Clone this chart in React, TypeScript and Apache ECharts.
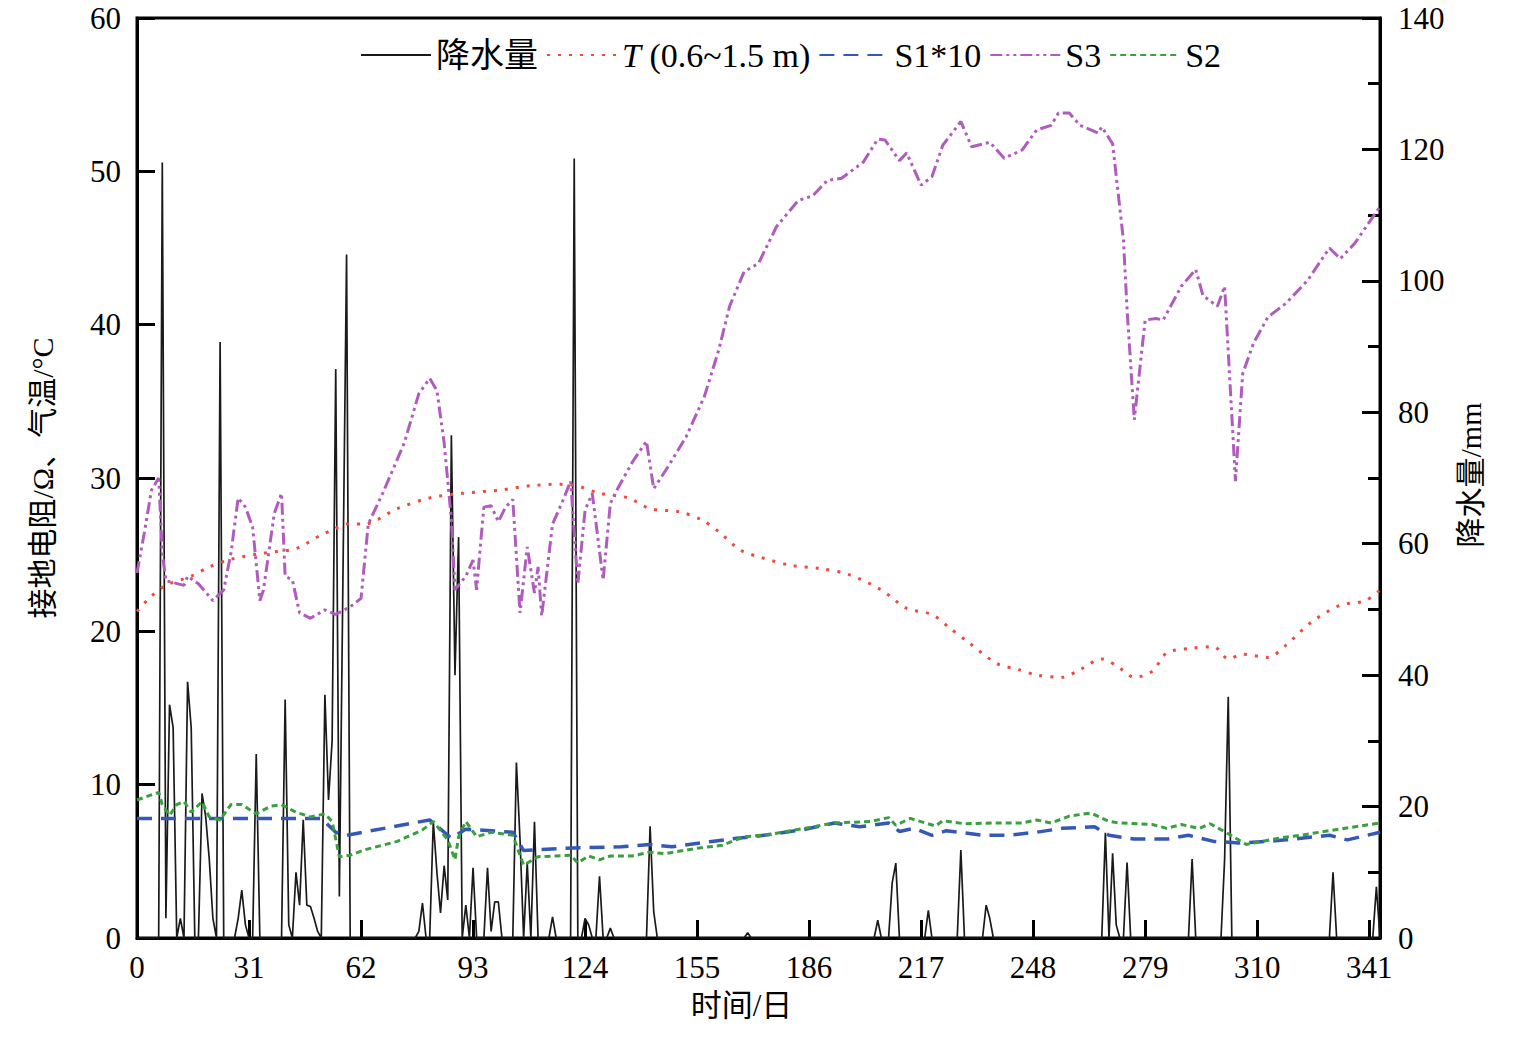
import React, { useEffect, useRef } from 'react';
import * as echarts from 'echarts';

// ---------- data ----------
const xMax = 344;
const xTickStep = 31;

// precipitation (mm), daily; days not listed are 0
const rainDays = [7, 8, 9, 10, 12, 14, 15, 18, 19, 20, 21, 23, 28, 29, 30, 33, 41, 42, 44, 45, 46, 47, 48, 49, 50, 52, 53, 54, 55, 56, 57, 58,
  78, 79, 82, 83, 84, 85, 86, 87, 88, 89, 91, 93, 97, 98, 99, 100, 105, 106, 108, 110, 115, 121, 124, 125, 128, 131, 142, 143, 169,
  205, 209, 210, 219, 228, 235, 236, 268, 270, 271, 274, 292, 301, 302, 331, 343];
const rainMm = [118, 3, 35.5, 32, 3, 39, 32, 22, 18.5, 12, 3, 90.7, 3, 7.3, 2, 28, 36.3, 2, 10, 5, 18, 5, 4.8, 3, 1, 37, 21, 30, 86.6, 6.3, 55, 104,
  1, 5.3, 17.7, 10, 3.8, 11, 5.8, 76.5, 40, 61, 5, 10.7, 10.7, 1, 5.5, 5.5, 26.7, 15, 11.4, 17.7, 3.2, 118.6, 3, 2, 9.4, 1.5, 17, 4, 0.8,
  2.7, 8.4, 11.4, 4.2, 13.4, 5, 3, 16, 12.9, 2, 11.5, 12, 12, 36.7, 10, 7.8];

// T (0.6~1.5 m), °C
const tDays = [0, 4, 8, 15, 20, 26, 35, 44, 51, 54, 58, 63, 72, 81, 90, 100, 109, 118, 123, 128, 136, 142, 150, 156, 161, 167, 173, 181, 189, 197,
  206, 213, 220, 225, 230, 238, 244, 249, 256, 261, 267, 272, 276, 281, 285, 292, 298, 302, 306, 313, 318, 325, 333, 340, 344];
const tVals = [21.3, 22.3, 23.0, 23.6, 24.2, 24.7, 25.1, 25.4, 26.3, 26.6, 27.0, 27.0, 28.0, 28.7, 29.0, 29.2, 29.5, 29.6, 29.4, 29.0, 28.7, 28.0, 27.8, 27.3, 26.5, 25.3, 24.8, 24.3, 24.1, 23.7,
  22.7, 21.5, 21.1, 20.2, 19.3, 17.9, 17.5, 17.15, 17.0, 17.5, 18.2, 17.6, 17.0, 17.4, 18.6, 18.9, 19.0, 18.2, 18.5, 18.3, 19.1, 20.6, 21.7, 22.0, 22.7];

// S1*10, Ω
const s1Days = [0, 20, 35, 51, 55, 58, 81, 87, 91, 104, 107, 118, 134, 142, 148, 159, 166, 172, 184, 193, 200, 208, 211, 215, 220, 224, 234, 241,
  249, 256, 265, 269, 276, 285, 291, 298, 305, 313, 318, 330, 335, 344];
const s1Vals = [7.8, 7.8, 7.8, 7.8, 6.9, 6.7, 7.7, 6.5, 7.1, 6.9, 5.7, 5.85, 5.95, 6.1, 5.95, 6.3, 6.5, 6.65, 7.05, 7.5, 7.25, 7.5, 6.95, 7.15, 6.7, 7.0, 6.7, 6.7,
  6.9, 7.15, 7.25, 6.7, 6.45, 6.45, 6.7, 6.3, 6.2, 6.3, 6.4, 6.7, 6.4, 6.9];

// S3, Ω
const s3Days = [0, 2, 4, 6, 7, 8, 13, 14, 17, 21, 24, 26, 28, 30, 32, 34, 35, 38, 40, 41, 43, 45, 48, 52, 55, 59, 62, 64, 68, 74, 78, 81, 83, 85, 87, 88,
  91, 93, 94, 95, 96, 98, 100, 102, 104, 106, 108, 110, 111, 112, 115, 118, 120, 122, 124, 126, 129, 131, 133, 137, 141, 143, 147, 152, 157, 161, 164,
  168, 172, 177, 183, 187, 191, 195, 201, 205, 207, 211, 213, 217, 220, 223, 228, 231, 236, 240, 245, 249, 253, 255, 258, 261, 266, 267, 270, 273, 274,
  276, 279, 282, 284, 289, 293, 295, 299, 301, 304, 306, 309, 313, 318, 324, 330, 333, 337, 344];
const s3Vals = [23.8, 26.4, 29.2, 30.0, 25.1, 23.3, 23.0, 23.6, 23.1, 22.0, 22.7, 25.1, 28.7, 28.1, 26.8, 22.0, 22.7, 27.7, 29.0, 23.6, 23.35, 21.2, 20.85, 21.4, 21.1, 21.6, 22.15, 27.0, 29.0, 32.3, 35.5, 36.5, 35.7, 32.3, 27.3, 22.7,
  23.6, 24.65, 22.7, 25.5, 28.1, 28.2, 27.15, 28.1, 28.6, 21.2, 25.5, 22.5, 24.2, 21.0, 27.0, 28.6, 29.8, 23.1, 27.9, 29.0, 23.35, 28.35, 29.3, 31.0, 32.4, 29.3, 30.75, 32.7, 35.3, 38.35, 41.2,
  43.45, 44.0, 46.4, 48.1, 48.4, 49.4, 49.55, 50.6, 52.1, 52.05, 50.7, 51.2, 49.1, 49.65, 51.7, 53.25, 51.6, 51.9, 50.85, 51.4, 52.7, 53.0, 53.8, 53.8, 53.0, 52.5, 52.9, 51.8, 45.5, 41.0,
  33.8, 40.3, 40.4, 40.3, 42.5, 43.6, 41.9, 41.2, 42.5, 29.8, 36.8, 38.8, 40.5, 41.4, 42.9, 45.0, 44.3, 45.3, 47.7];

// S2, Ω
const s2Days = [0, 6, 7, 9, 11, 13, 15, 18, 20, 23, 26, 29, 33, 37, 40, 44, 48, 52, 54, 56, 59, 63, 72, 79, 82, 86, 88, 89, 91, 94, 98, 104, 107, 111,
  120, 122, 125, 128, 131, 137, 142, 146, 155, 162, 168, 175, 186, 193, 203, 208, 210, 214, 221, 223, 229, 237, 245, 249, 253, 258, 264, 269, 272,
  281, 285, 289, 294, 297, 302, 307, 317, 322, 330, 344];
const s2Vals = [9.0, 9.5, 8.7, 8.0, 8.7, 8.9, 8.2, 8.9, 7.9, 7.7, 8.7, 8.7, 8.1, 8.6, 8.7, 8.2, 7.9, 8.1, 7.6, 5.3, 5.4, 5.75, 6.3, 7.05, 7.6, 6.4, 5.1, 6.6, 7.6, 6.6, 6.9, 6.7, 4.75, 5.3,
  5.4, 4.9, 5.35, 5.1, 5.35, 5.35, 5.6, 5.5, 5.85, 6.05, 6.6, 6.75, 7.2, 7.5, 7.6, 7.85, 7.35, 7.8, 7.3, 7.65, 7.45, 7.5, 7.5, 7.7, 7.5, 7.95, 8.15, 7.6, 7.5,
  7.4, 7.15, 7.4, 7.15, 7.45, 6.8, 6.1, 6.55, 6.7, 7.0, 7.5];

const seriesNames = ['降水量', 'T (0.6~1.5 m)', 'S1*10', 'S3', 'S2'];
const leftAxisName = '接地电阻/Ω、气温/°C';
const rightAxisName = '降水量/mm';
const xAxisName = '时间/日';

const FONT = "'Liberation Serif', 'Noto Sans CJK SC', serif";

function pairs(days: number[], vals: number[]) {
  return days.map((d, i) => [d, vals[i]]);
}

function dailyRain() {
  const arr: number[][] = [];
  for (let d = 0; d <= xMax; d++) arr.push([d, 0]);
  rainDays.forEach((d, i) => { arr[d][1] = rainMm[i]; });
  return arr;
}

export default function App() {
  const ref = useRef<HTMLDivElement>(null);
  useEffect(() => {
    if (!ref.current) return;
    const chart = echarts.init(ref.current, null, { renderer: 'svg' });
    const axisLine = { show: true, lineStyle: { color: '#000', width: 3 } };
    const labelStyle = { color: '#000', fontSize: 31, fontFamily: FONT };
    chart.setOption({
      animation: false,
      backgroundColor: '#fff',
      grid: {
        left: 137, right: 140, top: 18, bottom: 124,
        containLabel: false,
        outerBoundsMode: 'none',
        show: true, borderColor: '#000', borderWidth: 3, backgroundColor: 'transparent',
      },
      legend: {
        left: 355, top: 33,
        itemWidth: 70, itemHeight: 14, itemGap: 8,
        data: seriesNames,
        itemStyle: { opacity: 0 },
        formatter: (name: string) => name.startsWith('T ') ? '{it|T} {n|(0.6~1.5 m)}' : name,
        textStyle: {
          color: '#000', fontSize: 34, fontFamily: FONT,
          rich: {
            it: { fontStyle: 'italic', fontSize: 34, fontFamily: FONT, color: '#000' },
            n: { fontSize: 34, fontFamily: FONT, color: '#000' },
          },
        },
      },
      xAxis: {
        type: 'value', min: 0, max: xMax, interval: xTickStep,
        name: xAxisName, nameLocation: 'middle', nameGap: 52,
        nameTextStyle: { color: '#000', fontSize: 31, fontFamily: FONT, padding: [0, 34, 0, 0] },
        axisLine,
        axisTick: { show: true, inside: true, length: 18, lineStyle: { color: '#000', width: 3 } },
        axisLabel: { ...labelStyle, margin: 14, formatter: (v: number) => (v % xTickStep === 0 ? String(v) : '') },
        splitLine: { show: false },
      },
      yAxis: [
        {
          type: 'value', min: 0, max: 60, interval: 10, position: 'left',
          name: leftAxisName, nameLocation: 'middle', nameGap: 80, nameRotate: 90,
          nameTextStyle: { color: '#000', fontSize: 30, fontFamily: FONT },
          axisLine,
          axisTick: { show: true, inside: true, length: 18, lineStyle: { color: '#000', width: 3 } },
          axisLabel: { ...labelStyle, margin: 16 },
          splitLine: { show: false },
        },
        {
          type: 'value', min: 0, max: 140, interval: 20, position: 'right',
          name: rightAxisName, nameLocation: 'middle', nameGap: 68, nameRotate: 90,
          nameTextStyle: { color: '#000', fontSize: 30, fontFamily: FONT, padding: [0, 0, 0, 6] },
          axisLine,
          axisTick: { show: true, inside: true, length: 18, lineStyle: { color: '#000', width: 3 } },
          minorTick: { show: true, splitNumber: 2, length: 12, lineStyle: { color: '#000', width: 3 } },
          axisLabel: { ...labelStyle, margin: 18 },
          splitLine: { show: false },
          minorSplitLine: { show: false },
        },
      ],
      series: [
        {
          name: seriesNames[0], type: 'line', yAxisIndex: 1, symbol: 'none',
          data: dailyRain(),
          lineStyle: { color: '#1a1a1a', width: 1.7, type: 'solid' },
          itemStyle: { color: '#1a1a1a' },
        },
        {
          name: seriesNames[1], type: 'line', yAxisIndex: 0, symbol: 'none', smooth: 0.3,
          data: pairs(tDays, tVals),
          lineStyle: { color: '#ee4a3e', width: 3, type: [3, 8] },
          itemStyle: { color: '#ee4a3e' },
        },
        {
          name: seriesNames[2], type: 'line', yAxisIndex: 0, symbol: 'none',
          data: pairs(s1Days, s1Vals),
          lineStyle: { color: '#3457b8', width: 3.5, type: [15, 9] },
          itemStyle: { color: '#3457b8' },
        },
        {
          name: seriesNames[3], type: 'line', yAxisIndex: 0, symbol: 'none',
          data: pairs(s3Days, s3Vals),
          lineStyle: { color: '#b05cbd', width: 3, type: [12, 4, 3, 4, 3, 4] },
          itemStyle: { color: '#b05cbd' },
        },
        {
          name: seriesNames[4], type: 'line', yAxisIndex: 0, symbol: 'none',
          data: pairs(s2Days, s2Vals),
          lineStyle: { color: '#3a9f3f', width: 3, type: [6, 4] },
          itemStyle: { color: '#3a9f3f' },
        },
      ],
    });
    return () => chart.dispose();
  }, []);
  return (
    <div
      ref={ref}
      style={{ position: 'fixed', left: 0, top: 0, width: 1520, height: 1062, background: '#fff' }}
    />
  );
}
